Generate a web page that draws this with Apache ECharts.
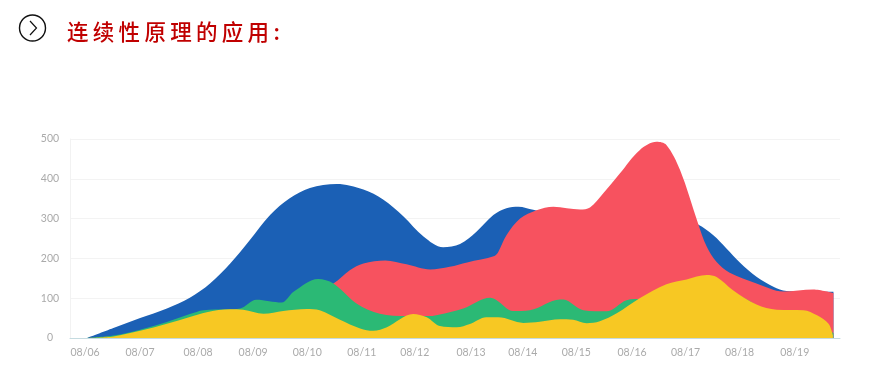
<!DOCTYPE html>
<html><head><meta charset="utf-8">
<style>html,body{margin:0;padding:0;background:#fff}#c{width:891px;height:384px}</style>
<script src="https://cdn.jsdelivr.net/npm/echarts@6/dist/echarts.min.js"></script>
</head><body><div id="c"></div>
<script>
const titleText = '连续性原理的应用:';
const dates = ['08/06','08/07','08/08','08/09','08/10','08/11','08/12','08/13','08/14','08/15','08/16','08/17','08/18','08/19'];
const labelDays = [0,1.007,2.07,3.08,4.07,5.07,6.04,7.07,8.02,9.0,10.02,11.0,11.99,13];
const yTicks = [0,100,200,300,400,500];
const blueDays = [0.04,0.52,1.01,1.5,1.92,2.29,2.66,3.02,3.39,3.75,4.12,4.61,5.10,5.46,5.83,6.2,6.56,6.87,7.17,7.48,7.72,7.94,8.21,8.94,10.16,10.9,11.23,11.51,11.75,12,12.3,12.61,12.85,13.71];
const blue     = [0,25,50,74,101,137,187,246,309,351,377,387,373,348,306,255,228,236,267,309,326,330,322,297,300,300,285,258,225,189,154,129,118,116];
const redDays = [0.04,1,2,3,3.8,4.55,4.85,5.1,5.5,5.89,6.32,6.68,7,7.5,7.57,7.72,7.97,8.27,8.58,9.07,9.25,9.49,9.8,10.16,10.47,10.65,10.9,11.23,11.39,11.57,11.81,12.3,12.79,13.34,13.71];
const red     = [0,12,40,60,85,137,170,187,195,185,172,179,190,206,216,258,300,321,330,323,328,363,414,472,493,485,422,288,229,191,164,137,117,122,113];
const greenDays = [0.04,0.52,1.01,1.5,1.92,2.17,2.6,2.84,3.14,3.6,3.82,4.27,4.55,4.98,5.4,5.89,6.32,6.5,6.93,7.42,7.54,7.84,8.15,8.7,8.82,9.13,9.55,9.92,10.22,10.5,11.5,12.5,13.5,13.71];
const green     = [0,6,21,40,60,70,72,74,96,89,116,148,137,86,61,55,55,59,74,101,95,68,70,97,95,70,67,95,99,110,130,70,30,12];
const yellowDays = [0.09,0.52,1.01,1.5,1.92,2.23,2.66,2.9,3.27,3.63,4.06,4.3,4.67,5.04,5.28,5.53,6.01,6.26,6.5,6.81,7.05,7.35,7.57,8.03,8.33,8.7,8.94,9.19,9.43,9.74,10.16,10.65,11.02,11.39,11.57,11.87,12.3,12.67,13.16,13.41,13.62,13.7];
const yellow     = [0,4,18,36,53,65,72,71,61,68,73,70,46,24,18,27,60,52,30,27,35,52,52,38,41,47,46,37,42,62,100,135,147,158,153,120,84,71,70,57,36,7];

const pairs = (xs,v) => v.map((y,i)=>[xs[i],y]);
const mk = (name,xs,v,color)=>({name,type:'line',data:pairs(xs,v),smooth:0.33,showSymbol:false,
  lineStyle:{width:0,color},itemStyle:{color},areaStyle:{color,opacity:1},animation:false});

const chart = echarts.init(document.getElementById('c'),null,{renderer:'canvas'});
chart.setOption({
  animation:false,
  backgroundColor:'#fff',
  grid:{left:70,right:51,top:139,bottom:46},
  title:{text:titleText.split('').join('\u2009'),left:62,top:16,
    textStyle:{color:'#c00000',fontSize:21.5,fontWeight:500,fontFamily:'"Noto Sans CJK SC"'}},
  xAxis:{type:'value',min:-0.275,max:13.83,
    axisLine:{show:true,lineStyle:{color:'#c5dbe0',width:1}},
    axisTick:{show:false},splitLine:{show:false},
    axisLabel:{customValues:labelDays,formatter:v=>dates[labelDays.indexOf(v)],
      color:'#aaaaaa',fontSize:10.5,margin:9,fontFamily:'Lato'}},
  yAxis:{type:'value',min:0,max:500,interval:100,
    axisLine:{show:true,onZero:false,lineStyle:{color:'#f2f2f2'}},axisTick:{show:false},
    splitLine:{lineStyle:{color:'#f3f3f3',width:1}},
    axisLabel:{customValues:yTicks,align:'center',margin:20,color:'#aaaaaa',fontSize:10.5,fontFamily:'Lato'}},
  series:[mk('A',blueDays,blue,'#1b60b5'),mk('B',redDays,red,'#f7525f'),mk('C',greenDays,green,'#2bb975'),mk('D',yellowDays,yellow,'#f7c823')],
  graphic:[
    {type:'circle',shape:{cx:32.5,cy:28,r:13},style:{fill:'#fff',stroke:'#111',lineWidth:1.4}},
    {type:'polyline',shape:{points:[[30,21],[36.5,28],[30,35]]},style:{fill:'none',stroke:'#111',lineWidth:1.2}}
  ]
});
</script></body></html>
